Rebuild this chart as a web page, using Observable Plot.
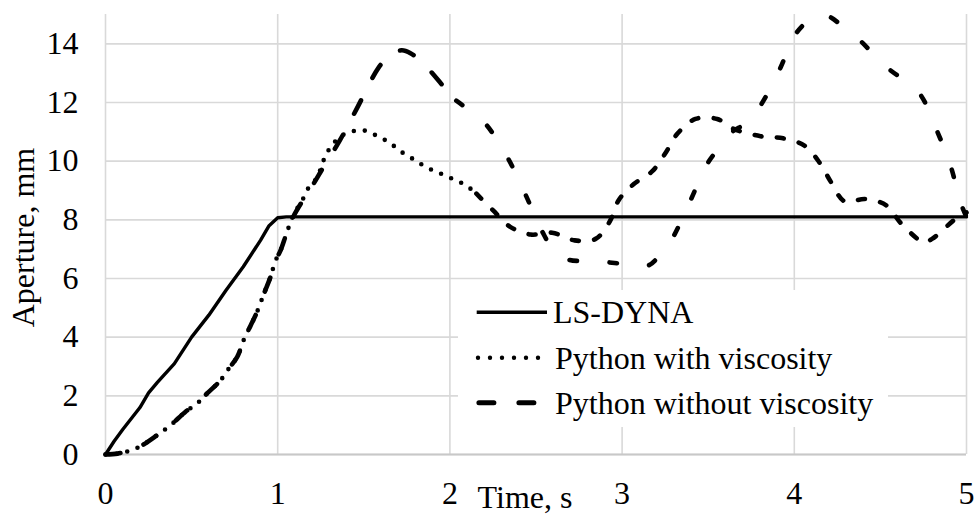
<!DOCTYPE html>
<html><head><meta charset="utf-8">
<script src="https://cdn.jsdelivr.net/npm/d3@7"></script>
<script src="https://cdn.jsdelivr.net/npm/@observablehq/plot@0.6"></script>
<style>
body{margin:0;background:#fff}
#wrap{position:relative;width:975px;height:514px;overflow:hidden;background:#fff}
#legend{position:absolute;left:458px;top:290px}
</style></head><body><div id="wrap"></div>
<script>
const seriesNames = ["LS-DYNA", "Python with viscosity", "Python without viscosity"];
const xTicks = [0, 1, 2, 3, 4, 5];
const yTicks = [0, 2, 4, 6, 8, 10, 12, 14];
const xLabel = "Time, s";
const yLabel = "Aperture, mm";

const lsTime = [0, 0.05, 0.1, 0.2, 0.25, 0.3, 0.4, 0.5, 0.6, 0.7, 0.8, 0.9, 0.95, 1.0, 1.05, 5];
const lsAperture = [0, 0.45, 0.85, 1.6, 2.1, 2.45, 3.1, 4.0, 4.75, 5.6, 6.4, 7.3, 7.8, 8.07, 8.1, 8.1];

const visTime = [0, 0.07, 0.135, 0.2, 0.3, 0.378, 0.465, 0.532, 0.59, 0.668, 0.716, 0.765, 0.806, 0.843, 0.88, 0.92, 0.958, 0.987, 1.016, 1.055, 1.09, 1.142, 1.18, 1.23, 1.258, 1.287, 1.316, 1.355, 1.413, 1.49, 1.552, 1.612, 1.665, 1.723, 1.787, 1.839, 1.903, 1.965, 2.028, 2.09, 2.154, 2.251, 2.348, 2.468, 2.594, 2.724, 2.846, 2.929, 2.981, 3.068, 3.174, 3.251, 3.323, 3.426, 3.552, 3.648, 3.804, 3.935, 4.059, 4.148, 4.214, 4.292, 4.413, 4.535, 4.62, 4.752, 4.8, 4.936, 5.0];
const visAperture = [0, 0.03, 0.12, 0.27, 0.66, 1.0, 1.46, 1.74, 2.08, 2.53, 2.93, 3.33, 3.95, 4.4, 4.86, 5.48, 6.05, 6.6, 6.95, 7.6, 8.15, 8.66, 9.1, 9.45, 9.9, 10.3, 10.53, 10.81, 10.98, 11.06, 10.93, 10.76, 10.56, 10.3, 10.07, 9.88, 9.68, 9.53, 9.36, 9.19, 8.89, 8.32, 7.77, 7.5, 7.56, 7.3, 7.35, 7.95, 8.68, 9.22, 9.65, 10.27, 10.95, 11.44, 11.44, 11.1, 10.85, 10.78, 10.53, 9.94, 9.28, 8.63, 8.71, 8.49, 7.88, 7.24, 7.35, 8.03, 8.25];

const nvTime = [0, 0.07, 0.135, 0.2, 0.3, 0.378, 0.465, 0.532, 0.59, 0.668, 0.716, 0.765, 0.806, 0.843, 0.88, 0.92, 0.958, 0.987, 1.016, 1.055, 1.09, 1.15, 1.2, 1.266, 1.36, 1.46, 1.587, 1.65, 1.72, 1.771, 1.85, 1.96, 2.037, 2.12, 2.207, 2.337, 2.439, 2.536, 2.6, 2.69, 2.8, 2.904, 3.0, 3.1, 3.155, 3.22, 3.29, 3.397, 3.494, 3.57, 3.64, 3.72, 3.804, 3.916, 4.007, 4.1, 4.19, 4.28, 4.375, 4.539, 4.723, 4.82, 4.907, 4.965, 5.0];
const nvAperture = [0, 0.03, 0.12, 0.27, 0.66, 1.0, 1.46, 1.74, 2.08, 2.53, 2.93, 3.33, 3.95, 4.4, 4.86, 5.48, 6.05, 6.6, 6.95, 7.6, 8.1, 8.7, 9.15, 9.8, 10.7, 11.8, 13.2, 13.6, 13.78, 13.68, 13.3, 12.57, 12.06, 11.7, 11.27, 10.1, 8.86, 7.6, 7.0, 6.64, 6.6, 6.56, 6.5, 6.42, 6.45, 6.8, 7.35, 8.66, 9.9, 10.5, 11.0, 11.3, 11.9, 13.14, 14.33, 14.85, 14.95, 14.6, 14.15, 13.19, 12.34, 11.15, 9.85, 8.6, 8.1];

const toRows = (t, a) => t.map((x, i) => ({t: x, a: a[i]}));
const ls = toRows(lsTime, lsAperture);
const vis = toRows(visTime, visAperture);
const nv = toRows(nvTime, nvAperture);

const FONT = "Liberation Serif";
const grid = "#d9d9d9";

const plot = Plot.plot({
  width: 975, height: 514,
  marginLeft: 105, marginRight: 9, marginTop: 14, marginBottom: 60,
  style: {fontFamily: FONT, fontSize: "32px", background: "white", color: "black"},
  x: {domain: [0, 5], ticks: xTicks, tickSize: 0, tickPadding: 27, label: null, tickFormat: d3.format("d")},
  y: {domain: [0, 15], ticks: yTicks, tickSize: 0, tickPadding: 27, label: null, tickFormat: d3.format("d")},
  marks: [
    Plot.ruleY(yTicks, {stroke: grid, strokeWidth: 1.6}),
    Plot.ruleX(xTicks, {stroke: grid, strokeWidth: 1.6}),
    Plot.ruleY([0], {stroke: "#c8c8c8", strokeWidth: 1.8}),
    Plot.line(ls, {x: "t", y: "a", stroke: "black", strokeWidth: 3.4, strokeLinejoin: "round"}),
    Plot.line(vis.filter(d => d.t <= 2.154), {x: "t", y: "a", stroke: "black", strokeWidth: 4.6, strokeLinecap: "round", strokeDasharray: "0 11", curve: "catmull-rom"}),
    Plot.line(vis.filter(d => d.t >= 2.154), {x: "t", y: "a", stroke: "black", strokeWidth: 4.6, strokeLinecap: "round", strokeDasharray: "7 15.4", curve: "catmull-rom"}),
    Plot.line(nv.filter(d => d.t <= 2.037), {x: "t", y: "a", stroke: "black", strokeWidth: 4.6, strokeLinecap: "round", strokeDasharray: "15 25", curve: "catmull-rom"}),
    Plot.line(nv.filter(d => d.t >= 2.037), {x: "t", y: "a", stroke: "black", strokeWidth: 4.6, strokeLinecap: "round", strokeDasharray: "7.5 32.5", curve: "catmull-rom"}),
    Plot.text([xLabel], {text: d => d, frameAnchor: "bottom", textAnchor: "middle", lineAnchor: "middle", dx: -11, dy: 43, fill: "black"}),
    Plot.text([yLabel], {text: d => d, frameAnchor: "left", textAnchor: "middle", lineAnchor: "middle", rotate: -90, dx: -82, dy: 3, fill: "black"})
  ]
});

const wrap = document.getElementById("wrap");
wrap.appendChild(plot);

// legend
const ns = "http://www.w3.org/2000/svg";
const leg = document.createElementNS(ns, "svg");
leg.setAttribute("id", "legend");
leg.setAttribute("width", 430);
leg.setAttribute("height", 137);
const rows = [
  {name: seriesNames[0], x1: 18.7, x2: 89, dash: null, w: 3.4, tx: 95, cap: "butt"},
  {name: seriesNames[1], x1: 20, x2: 80.1, dash: "0 12", w: 4.4, tx: 97, cap: "round"},
  {name: seriesNames[2], x1: 20.9, x2: 77.8, dash: "15 25", w: 5, tx: 97, cap: "round"}
];
const rect = document.createElementNS(ns, "rect");
rect.setAttribute("width", 430); rect.setAttribute("height", 137); rect.setAttribute("fill", "white");
leg.appendChild(rect);
rows.forEach((r, i) => {
  const ly = [22.3, 67.7, 112.7][i];
  const line = document.createElementNS(ns, "line");
  line.setAttribute("x1", r.x1); line.setAttribute("x2", r.x2);
  line.setAttribute("y1", ly); line.setAttribute("y2", ly);
  line.setAttribute("stroke", "black"); line.setAttribute("stroke-width", r.w);
  line.setAttribute("stroke-linecap", r.cap);
  if (r.dash) line.setAttribute("stroke-dasharray", r.dash);
  leg.appendChild(line);
  const t = document.createElementNS(ns, "text");
  t.setAttribute("x", r.tx); t.setAttribute("y", ly + 10.8);
  t.setAttribute("font-family", FONT); t.setAttribute("font-size", 32); t.setAttribute("fill", "black");
  t.textContent = r.name;
  leg.appendChild(t);
});
wrap.appendChild(leg);
</script></body></html>
